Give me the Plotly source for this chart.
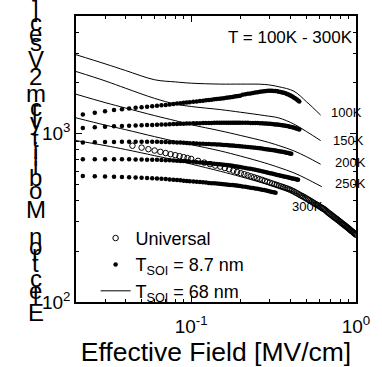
import math
import plotly.graph_objects as go

# ---------------- data ----------------
# T_SOI = 8.7 nm (dots): effective field grid [MV/cm]
field_dots = [0.022, 0.026, 0.030, 0.034, 0.038, 0.042, 0.046, 0.050, 0.054, 0.058,
              0.062, 0.066, 0.070, 0.074, 0.078, 0.082, 0.086, 0.090, 0.094, 0.098,
              0.103, 0.108, 0.113, 0.118, 0.123, 0.128, 0.133, 0.138, 0.143, 0.148,
              0.153, 0.158, 0.163, 0.168, 0.173, 0.178, 0.183, 0.188, 0.193, 0.198,
              0.205, 0.213, 0.221, 0.229, 0.237, 0.245, 0.253, 0.261, 0.269, 0.277,
              0.285, 0.293, 0.301, 0.309, 0.317, 0.325, 0.333, 0.341, 0.349, 0.357,
              0.365, 0.373, 0.381, 0.389, 0.397, 0.405, 0.413, 0.421, 0.429, 0.437,
              0.445, 0.453]

mu_thin_100K = [1300, 1330, 1360, 1380, 1398, 1412, 1425, 1436, 1446, 1455,
                1464, 1473, 1482, 1491, 1500, 1509, 1517, 1524, 1531, 1537,
                1545, 1553, 1561, 1569, 1577, 1585, 1592, 1599, 1606, 1612,
                1619, 1626, 1633, 1640, 1647, 1654, 1661, 1668, 1675, 1682,
                1700, 1712, 1724, 1735, 1746, 1756, 1765, 1774, 1782, 1789,
                1794, 1797, 1798, 1797, 1794, 1790, 1784, 1777, 1769, 1759,
                1748, 1736, 1722, 1707, 1691, 1674, 1656, 1637, 1617, 1596,
                1574, 1551]
mu_thin_150K = [1080, 1090, 1100, 1105, 1110, 1115, 1118, 1121, 1124, 1127,
                1130, 1133, 1135, 1138, 1141, 1143, 1145, 1147, 1149, 1151,
                1153, 1154, 1155, 1156, 1157, 1158, 1159, 1160, 1161, 1162,
                1162, 1162, 1163, 1163, 1163, 1163, 1163, 1163, 1163, 1163,
                1162, 1161, 1160, 1159, 1158, 1157, 1156, 1154, 1152, 1150,
                1148, 1146, 1144, 1141, 1138, 1135, 1132, 1129, 1126, 1122,
                1118, 1114, 1110, 1105, 1100, 1095, 1090, 1084, 1078, 1072,
                1066, 1060]
mu_thin_200K = [885, 888, 891, 893, 894, 895, 895, 895, 895, 895,
                894, 893, 892, 890, 889, 887, 885, 883, 880, 878,
                876, 874, 872, 870, 869, 867, 866, 864, 863, 861,
                859, 857, 855, 854, 852, 850, 848, 846, 845, 843,
                840, 837, 834, 831, 828, 824, 821, 818, 815, 811,
                808, 805, 802, 799, 796, 793, 789, 786, 783, 780,
                777, 773, 770, 767, 763, 760]
mu_thin_250K = [705, 705, 705, 705, 705, 704, 703, 702, 701, 700,
                699, 698, 696, 695, 693, 691, 689, 687, 685, 682,
                680, 677, 675, 672, 670, 668, 666, 663, 661, 659,
                657, 654, 651, 649, 646, 644, 641, 639, 636, 634,
                630, 626, 622, 618, 614, 610, 606, 602, 598, 594,
                590, 586, 582, 579, 576, 572, 569, 566, 563, 560,
                557, 555, 552, 549, 547, 544, 542, 539, 537, 534,
                532]
mu_thin_300K = [560, 558, 556, 555, 553, 551, 549, 547, 545, 543,
                541, 539, 537, 534, 532, 530, 528, 526, 524, 522,
                520, 518, 516, 514, 512, 510, 508, 507, 505, 504,
                502, 501, 499, 498, 496, 495, 493, 492, 490, 489,
                486, 484, 481, 478, 476, 473, 470, 467, 465, 462,
                459, 457, 454, 451, 449, 446]

# Universal mobility (open circles)
field_univ = [0.044, 0.050, 0.055, 0.060, 0.065, 0.070, 0.075, 0.080, 0.085, 0.090,
              0.095, 0.100, 0.11, 0.12, 0.13, 0.14, 0.15, 0.16, 0.17, 0.18,
              0.19, 0.20, 0.21, 0.22, 0.23, 0.24, 0.25, 0.26, 0.27, 0.28,
              0.29, 0.30, 0.31, 0.32, 0.33, 0.34, 0.35, 0.36, 0.37, 0.38,
              0.39, 0.40, 0.41, 0.42, 0.43, 0.44, 0.45, 0.46, 0.47, 0.48,
              0.49, 0.50, 0.51, 0.52, 0.53, 0.54, 0.55, 0.56, 0.57, 0.58,
              0.59, 0.60, 0.61, 0.62, 0.63, 0.64, 0.65, 0.66, 0.67, 0.68,
              0.69, 0.70, 0.71, 0.72, 0.73, 0.74, 0.75, 0.76, 0.77, 0.78,
              0.79, 0.80, 0.81, 0.82, 0.83, 0.84, 0.85, 0.86, 0.87, 0.88,
              0.89, 0.90, 0.91, 0.92, 0.93, 0.94, 0.95, 0.96, 0.97, 0.98,
              0.99, 1.00]
mu_univ = [848, 826, 809, 794, 780, 767, 755, 745, 735, 725,
           716, 708, 690, 673, 659, 646, 637, 625, 614, 603,
           592, 582, 574, 566, 558, 551, 544, 537, 531, 524,
           518, 512, 506, 501, 496, 491, 486, 482, 477, 473,
           468, 464, 458, 453, 447, 442, 436, 431, 426, 422,
           417, 412, 407, 403, 398, 394, 389, 385, 381, 378,
           374, 370, 366, 363, 359, 356, 352, 348, 343, 339,
           335, 332, 328, 325, 321, 318, 315, 312, 309, 306,
           303, 300, 297, 294, 291, 289, 286, 284, 281, 279,
           276, 274, 271, 269, 266, 264, 262, 260, 257, 255,
           253, 251]

# T_SOI = 68 nm (solid lines)
field_thick_100K = [0.020, 0.030, 0.040, 0.060, 0.080, 0.100, 0.150, 0.200, 0.280, 0.340, 0.420, 0.500, 0.610]
mu_thick_100K = [2944, 2600, 2372, 2090, 2030, 1995, 1970, 1970, 1960, 1900, 1787, 1550, 1290]
field_thick_150K = [0.020, 0.030, 0.040, 0.060, 0.080, 0.100, 0.150, 0.200, 0.280, 0.340, 0.420, 0.500, 0.610]
mu_thick_150K = [2340, 2060, 1861, 1620, 1500, 1450, 1390, 1340, 1280, 1240, 1140, 1030, 910]
field_thick_200K = [0.020, 0.030, 0.040, 0.060, 0.080, 0.100, 0.150, 0.200, 0.280, 0.340, 0.420, 0.500, 0.610]
mu_thick_200K = [1716, 1530, 1420, 1280, 1195, 1131, 1040, 975, 900, 850, 790, 730, 658]
field_thick_250K = [0.020, 0.030, 0.040, 0.060, 0.080, 0.100, 0.150, 0.200, 0.280, 0.340, 0.420, 0.500, 0.620]
mu_thick_250K = [1242, 1125, 1056, 960, 900, 860, 790, 735, 670, 630, 585, 540, 484]
field_thick_300K = [0.020, 0.030, 0.040, 0.060, 0.080, 0.100, 0.150, 0.200, 0.280, 0.340, 0.420, 0.500]
mu_thick_300K = [910, 850, 805, 740, 697, 660, 598, 555, 505, 478, 448, 418]

temps = ["100K", "150K", "200K", "250K", "300K"]
thin_series = [mu_thin_100K, mu_thin_150K, mu_thin_200K, mu_thin_250K, mu_thin_300K]
thick_fields = [field_thick_100K, field_thick_150K, field_thick_200K, field_thick_250K, field_thick_300K]
thick_series = [mu_thick_100K, mu_thick_150K, mu_thick_200K, mu_thick_250K, mu_thick_300K]
label_field = [0.69, 0.71, 0.725, 0.725, 0.40]
label_mu = [1345, 910, 676, 509, 369]

x_tickvals = [0.1, 1]
x_ticktext = ["10<sup>-1</sup>", "10<sup>0</sup>"]
y_tickvals = [100, 1000]
y_ticktext = ["10<sup>2</sup>", "10<sup>3</sup>"]

# ---------------- figure ----------------
FONT = "Arial, Liberation Sans, sans-serif"
fig = go.Figure()

fig.add_trace(go.Scatter(x=field_univ, y=mu_univ, mode="markers", name="Universal",
                         marker=dict(symbol="circle-open", size=5.5, color="black",
                                     line=dict(width=1, color="black"))))
for i, (t, mu) in enumerate(zip(temps, thin_series)):
    fig.add_trace(go.Scatter(x=field_dots[:len(mu)], y=mu, mode="markers",
                             name="T<sub>SOI</sub> = 8.7 nm", showlegend=(i == 0),
                             marker=dict(symbol="circle", size=4.5, color="black")))
for i, (t, fx, mu) in enumerate(zip(temps, thick_fields, thick_series)):
    fig.add_trace(go.Scatter(x=fx, y=mu, mode="lines", line_shape="spline",
                             name="T<sub>SOI</sub> = 68 nm", showlegend=(i == 0),
                             line=dict(color="black", width=1)))

for t, lx, ly in zip(temps, label_field, label_mu):
    fig.add_annotation(x=math.log10(lx), y=math.log10(ly), xref="x", yref="y", text=t,
                       showarrow=False, xanchor="left", yanchor="middle",
                       font=dict(family=FONT, size=13, color="black"))

fig.add_annotation(x=0.995, y=0.925, xref="paper", yref="paper", text="T = 100K - 300K",
                   showarrow=False, xanchor="right", yanchor="middle",
                   font=dict(family=FONT, size=17, color="black"))

# stacked y-axis title characters (bottom to top)
char_px = [318, 300, 295, 283, 268, 258, 251, 240, 213, 194, 180, 168, 160, 153, 141, 123,
           115, 109, 95, 78, 60, 43, 34, 23, 8]
chars = ["E", "l", "e", "c", "t", "r", "o", "n", "M", "o", "b", "i", "l", "i", "t", "y",
         "[", "c", "m", "2", "V", "s", "e", "c", "]"]
for ch, py in zip(chars, char_px):
    fig.add_annotation(x=(34 - 76) / 291, y=(307 - py) / 291, xref="paper", yref="paper",
                       text=ch, showarrow=False, xanchor="center", yanchor="middle",
                       font=dict(family=FONT, size=24, color="black"))

axis_common = dict(type="log", showline=True, linecolor="black", linewidth=1.5,
                   mirror="allticks", ticks="inside", ticklen=6, tickwidth=1,
                   tickcolor="black", showgrid=False, zeroline=False,
                   tickfont=dict(family=FONT, size=19, color="black"))

fig.update_xaxes(range=[-1.699, 0], tickmode="array", tickvals=x_tickvals, ticktext=x_ticktext,
                 minor=dict(ticks="inside", ticklen=3, tickcolor="black", tickwidth=1,
                            tickvals=[0.02, 0.03, 0.04, 0.05, 0.06, 0.07, 0.08, 0.09,
                                      0.2, 0.3, 0.4, 0.5, 0.6, 0.7, 0.8, 0.9], showgrid=False),
                 ticklabelstandoff=6,
                 title=dict(text="Effective Field [MV/cm]", standoff=0,
                            font=dict(family=FONT, size=26.5, color="black")),
                 **axis_common)
fig.update_yaxes(range=[2, 3.699], tickmode="array", tickvals=y_tickvals, ticktext=y_ticktext,
                 minor=dict(ticks="inside", ticklen=3, tickcolor="black", tickwidth=1,
                            tickvals=[200, 300, 400, 500, 600, 700, 800, 900, 2000, 3000, 4000, 5000],
                            showgrid=False),
                 **axis_common)

fig.update_layout(width=382, height=367, margin=dict(l=76, r=15, t=16, b=60),
                  paper_bgcolor="white", plot_bgcolor="white", showlegend=True,
                  legend=dict(x=0.07, y=0.13, xanchor="left", yanchor="middle",
                              bgcolor="rgba(0,0,0,0)", borderwidth=0,
                              font=dict(family=FONT, size=18, color="black"),
                              itemwidth=30, tracegroupgap=0))

fig.write_html("out.html")
